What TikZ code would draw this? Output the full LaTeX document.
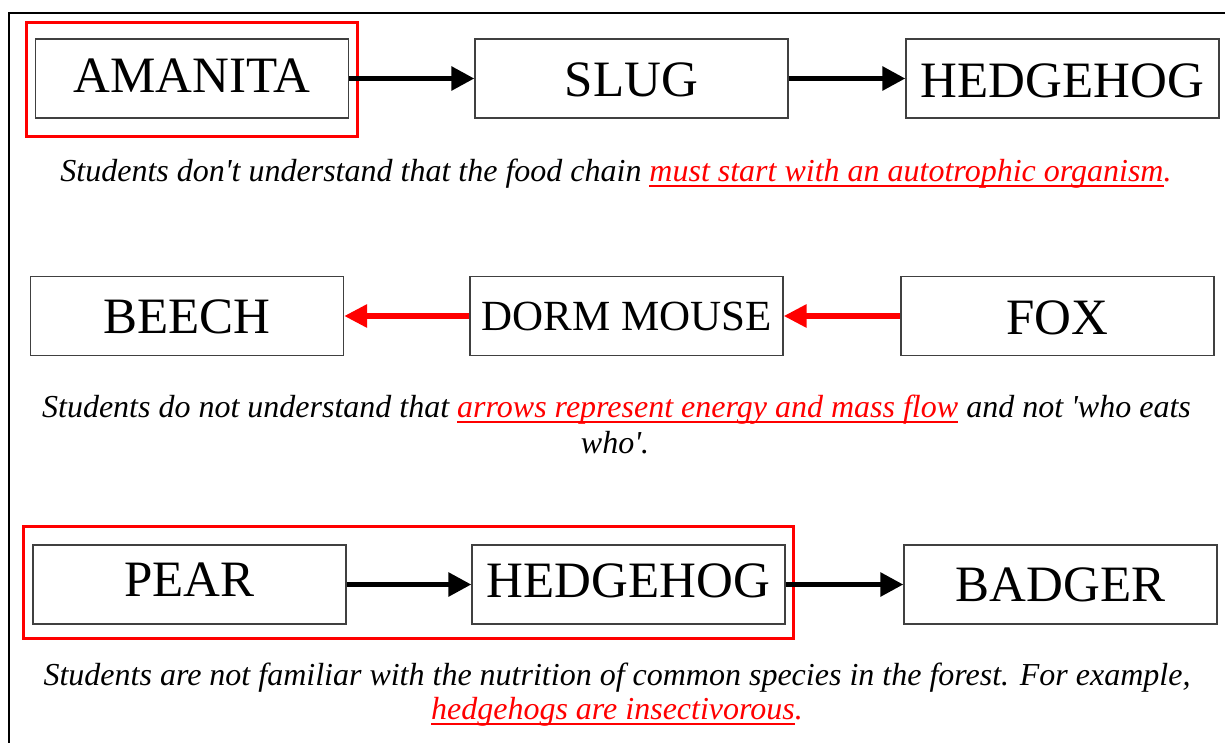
\documentclass[tikz,border=0pt]{standalone}
\usepackage{fontspec}
\usetikzlibrary{arrows.meta}
\newfontfamily\tnr{Liberation Serif}
\definecolor{boxgray}{HTML}{404040}
% red text with a rule below the baseline, crossing the descenders
\newsavebox\ulbox
\newcommand\redline[1]{\textcolor{red}{\sbox\ulbox{#1}%
  \rlap{\rule[-5.8pt]{\wd\ulbox}{1.8pt}}\usebox\ulbox}}
\newcommand\reddot{\textcolor{red}{.}}

\begin{document}
\begin{tikzpicture}[x=1pt,y=-1pt,
  orgbox/.style={draw=boxgray, line width=1.2pt, minimum width=313pt,
    minimum height=79pt, inner sep=0pt,
    font=\tnr\fontsize{51}{51}\selectfont, text height=#1, text depth=0pt},
  smallbox/.style={orgbox=#1, font=\tnr\fontsize{43}{43}\selectfont},
  caption/.style={anchor=base, inner sep=0pt,
    font=\tnr\itshape\fontsize{32}{36}\selectfont},
  flow/.style={line width=5.5pt, -{Triangle[length=23pt,width=23pt]}},
  eats/.style={red, line width=6.5pt, -{Triangle[length=23pt,width=22pt]}},
  hilite/.style={red, line width=3pt},
  frame/.style={black, line width=2pt}]

\useasboundingbox (0,0) rectangle (1225,742);

% outer frame (open to the right and bottom)
\draw[frame] (8.5,745) -- (8.5,12.5) -- (1228,12.5);

% chain 1: no autotroph at the start
\node[orgbox=27pt]   (amanita) at (192,78.5)    {AMANITA};
\node[orgbox=36.4pt] (slug)    at (631.5,78.5)  {SLUG};
\node[orgbox=37pt]   (hedgeA)  at (1062.5,78.5) {HEDGEHOG};
\draw[hilite] (26,22.5) rectangle (357,136);
\draw[flow] (amanita.east) -- (slug.west);
\draw[flow] (slug.east) -- (hedgeA.west);
\node[caption] (capA) at (616,181)
  {Students don't understand that the food chain \redline{must start with an autotrophic organism}\reddot};

% chain 2: arrows drawn as "who eats who"
\node[orgbox=34.6pt]   (beech) at (187,316)    {BEECH};
\node[smallbox=29.4pt] (dorm)  at (626.5,316)  {DORM MOUSE};
\node[orgbox=36pt]     (fox)   at (1057.5,316) {FOX};
\draw[eats] (dorm.west) -- (beech.east);
\draw[eats] (fox.west) -- (dorm.east);
\node[caption] (capB1) at (616.5,417.3)
  {Students do not understand that \redline{arrows represent energy and mass flow} and not 'who eats};
\node[caption] (capB2) at (615,453) {who'.};

% chain 3: hedgehog placed as a herbivore
\node[orgbox=24.4pt] (pear)   at (189.5,584.5)  {PEAR};
\node[orgbox=25pt]   (hedgeB) at (628.5,584.5)  {HEDGEHOG};
\node[orgbox=34.4pt] (badger) at (1060.5,584.5) {BADGER};
\draw[hilite] (23.5,526.5) rectangle (793.5,638);
\draw[flow] (pear.east) -- (hedgeB.west);
\draw[flow] (hedgeB.east) -- (badger.west);
\node[caption] (capC1) at (617,685.5)
  {Students are not familiar with the nutrition of common species in the forest. For example,};
\node[caption] (capC2) at (617,719.3) {\redline{hedgehogs are insectivorous}\reddot};

\end{tikzpicture}
\end{document}
